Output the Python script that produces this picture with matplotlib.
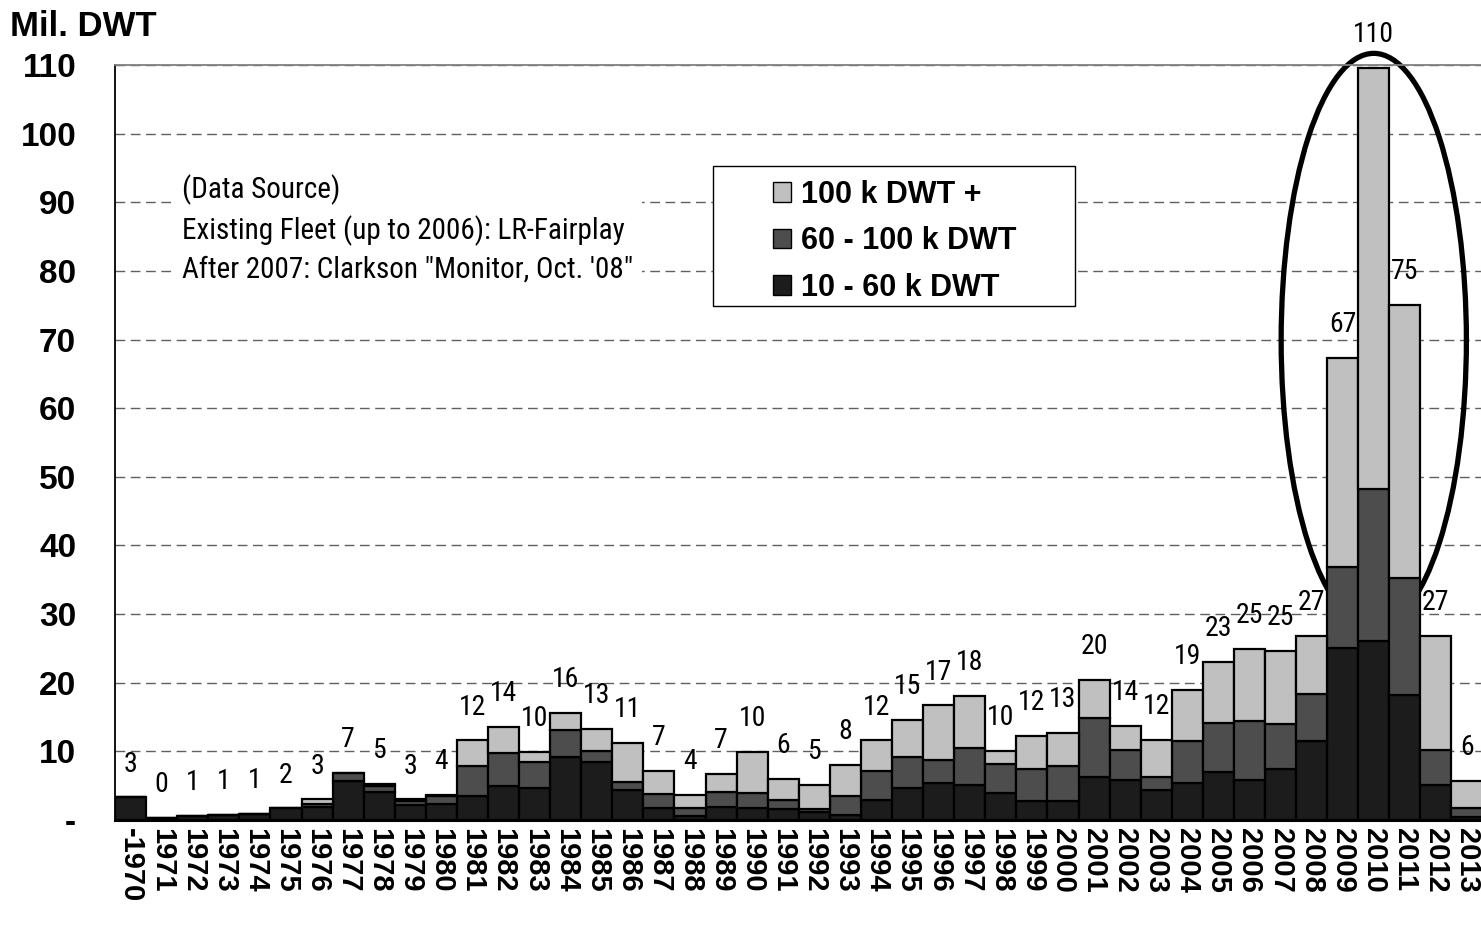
import os
import matplotlib
matplotlib.use("Agg")
import matplotlib.pyplot as plt
from matplotlib import font_manager
from matplotlib.font_manager import FontProperties
from matplotlib.patches import Ellipse, Rectangle, Patch
import numpy as np

plt.rcParams["font.family"] = ["Liberation Sans", "DejaVu Sans"]


def narrow_font():
    # look for a condensed face among the installed fonts
    prefs = ["liberationsansnarrow-regular", "arialnarrow", "robotocondensed-regular",
             "opensans_condensed", "opensanscondensed", "dejavusanscondensed.ttf"]
    files = [f.fname for f in font_manager.fontManager.ttflist]
    for p in prefs:
        for fn in files:
            if p in os.path.basename(fn).lower().replace(" ", ""):
                return fn
    return None


NARROW_FILE = narrow_font()


def narrow(size):
    if NARROW_FILE:
        return FontProperties(fname=NARROW_FILE, size=size)
    return FontProperties(family="Liberation Sans", size=size)


years = ["-1970"] + [str(y) for y in range(1971, 2014)]

# Mil. DWT per size class
dwt_10_60 = [3.3, 0.3, 0.6, 0.8, 0.9, 1.7, 1.9, 5.7, 4.1, 2.2,
             2.3, 3.5, 4.9, 4.6, 9.2, 8.4, 4.3, 1.8, 0.6, 1.9,
             1.8, 1.6, 1.1, 0.8, 2.9, 4.6, 5.4, 5.1, 4.0, 2.8,
             2.8, 6.3, 5.8, 4.3, 5.4, 7.0, 5.9, 7.4, 11.5, 25.0,
             26.1, 18.2, 5.1, 0.5]
dwt_60_100 = [0.0, 0.0, 0.0, 0.0, 0.0, 0.0, 0.5, 1.1, 0.8, 0.5,
              1.2, 4.3, 4.8, 3.8, 3.9, 1.7, 1.3, 2.0, 1.2, 2.2,
              2.2, 1.3, 0.5, 2.7, 4.3, 4.6, 3.3, 5.4, 4.2, 4.6,
              5.0, 8.6, 4.4, 2.0, 6.1, 7.2, 8.5, 6.6, 6.8, 11.8,
              22.1, 17.1, 5.1, 1.2]
dwt_100_up = [0.0, 0.0, 0.0, 0.0, 0.0, 0.0, 0.6, 0.1, 0.3, 0.3,
              0.1, 3.8, 3.9, 1.5, 2.5, 3.2, 5.6, 3.3, 1.8, 2.6,
              5.9, 3.1, 3.5, 4.5, 4.4, 5.4, 8.0, 7.6, 1.9, 4.8,
              4.9, 5.5, 3.5, 5.4, 7.4, 8.8, 10.5, 10.6, 8.5, 30.5,
              61.4, 39.7, 16.6, 4.0]

c_small, c_mid, c_big = "#1c1c1c", "#4d4d4d", "#c0c0c0"

fig = plt.figure(figsize=(14.81, 9.25), dpi=100)
ax = fig.add_axes([0.0777, 0.1135, 0.9223, 0.8162])

x = np.arange(len(years))
a = np.array(dwt_10_60)
b = np.array(dwt_60_100)
c = np.array(dwt_100_up)
total = a + b + c

kw = dict(width=1.0, edgecolor="black", linewidth=1.6, zorder=3)
ax.bar(x, a, color=c_small, **kw)
ax.bar(x, b, bottom=a, color=c_mid, **kw)
ax.bar(x, c, bottom=a + b, color=c_big, **kw)

for xi, t in zip(x, total):
    ax.annotate(f"{t:.0f}", (xi, t), xytext=(0, 24), textcoords="offset points",
                ha="center", va="center", fontproperties=narrow(20), zorder=6)

# highlight ellipse around 2009-2011
ax.add_patch(Ellipse((40, 69.9), 5.96, 83.6, fill=False, edgecolor="black",
                     linewidth=3.8, zorder=2.5, clip_on=False))

ax.set_xlim(-0.5, 43.45)
ax.set_ylim(0, 110)
ax.set_yticks(range(0, 111, 10))
ax.set_yticklabels(["-"] + [str(v) for v in range(10, 111, 10)],
                   fontsize=24, fontweight="bold")
ax.set_xticks(x)
ax.set_xticklabels(years, rotation=270, fontsize=21, fontweight="bold",
                   ha="center", va="top")
ax.tick_params(axis="y", length=0, pad=28)
ax.tick_params(axis="x", length=0, pad=6)

ax.grid(axis="y", color="#606060", linewidth=1.0, linestyle=(0, (7, 4)), zorder=1)
ax.set_axisbelow(True)
ax.spines["right"].set_visible(False)
ax.spines["top"].set_color("#808080")
ax.spines["top"].set_linewidth(1.3)
ax.spines["left"].set_linewidth(1.3)
ax.spines["bottom"].set_linewidth(2.2)

fig.text(10 / 1481, 1 - 10 / 925, "Mil. DWT", fontsize=25, fontweight="bold",
         ha="left", va="top")

ax.text(0.049, 0.783,
        "(Data Source)\nExisting Fleet (up to 2006): LR-Fairplay\nAfter 2007: Clarkson \"Monitor, Oct. '08\"",
        transform=ax.transAxes, ha="left", va="center", fontproperties=narrow(21),
        linespacing=1.45, zorder=4,
        bbox=dict(facecolor="white", edgecolor="none", pad=6))

# legend with its own frame
ax.add_patch(Rectangle((0.4378, 0.681), 0.265, 0.185, transform=ax.transAxes,
                       facecolor="white", edgecolor="black", linewidth=1.0, zorder=4))
handles = [Patch(facecolor=c_big, edgecolor="black", linewidth=1.0),
           Patch(facecolor=c_mid, edgecolor="black", linewidth=1.0),
           Patch(facecolor=c_small, edgecolor="black", linewidth=1.0)]
labels = ["100 k DWT +", "60 - 100 k DWT", "10 - 60 k DWT"]
leg = ax.legend(handles, labels, loc="upper left", bbox_to_anchor=(0.4817, 0.848),
                frameon=False, borderaxespad=0, borderpad=0,
                prop=dict(size=22, weight="bold"), handlelength=0.6,
                handleheight=0.6, handletextpad=0.3, labelspacing=0.54)
leg.set_zorder(5)

fig.savefig("out.png", dpi=100)
